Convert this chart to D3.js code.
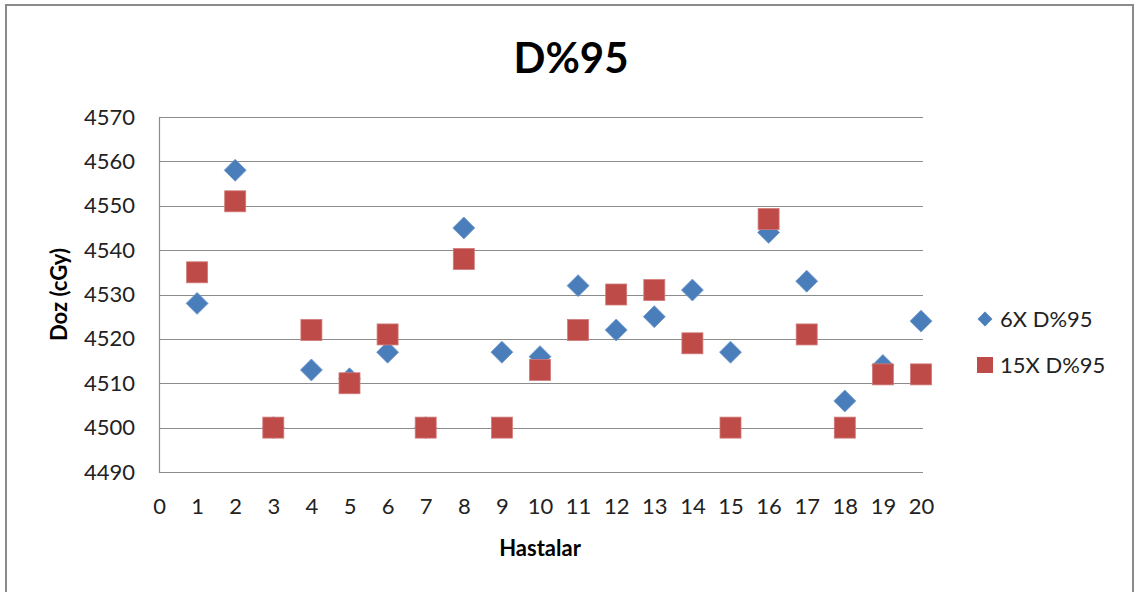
<!DOCTYPE html>
<html>
<head>
<meta charset="utf-8">
<script src="https://cdn.jsdelivr.net/npm/d3@7"></script>
<style>
  body { margin: 0; background: #fff; }
  svg { display: block; font-family: Lato, "Open Sans", sans-serif; }
</style>
</head>
<body>
<svg width="1136" height="592"></svg>
<script>
// Hasta numaraları ve doz değerleri (cGy)
const patients = d3.range(1, 21);
const dose6X  = [4528, 4558, 4500, 4513, 4511, 4517, 4500, 4545, 4517, 4516,
                 4532, 4522, 4525, 4531, 4517, 4544, 4533, 4506, 4514, 4524];
const dose15X = [4535, 4551, 4500, 4522, 4510, 4521, 4500, 4538, 4500, 4513,
                 4522, 4530, 4531, 4519, 4500, 4547, 4521, 4500, 4512, 4512];
const xTicks = d3.range(0, 21);
const yTicks = d3.range(4490, 4571, 10);
const seriesNames = ["6X D%95", "15X D%95"];

const blue = "#4a7ebb", red = "#be4b48";

const svg = d3.select("svg");

// Dış çerçeve
svg.append("rect")
    .attr("x", 6).attr("y", 5)
    .attr("width", 1127).attr("height", 600)
    .attr("fill", "#fff")
    .attr("stroke", "#8a8a8a")
    .attr("stroke-width", 2);

const plot = { left: 159, right: 921, top: 117, bottom: 472 };

const x = d3.scaleLinear().domain([0, 20]).range([plot.left, plot.right]);
const y = d3.scaleLinear().domain([4490, 4570]).range([plot.bottom, plot.top]);

// Yatay ızgara çizgileri
svg.append("g")
    .selectAll("line")
    .data(yTicks)
    .enter().append("line")
    .attr("x1", plot.left).attr("x2", plot.right + 2)
    .attr("y1", d => Math.round(y(d)) + 0.5)
    .attr("y2", d => Math.round(y(d)) + 0.5)
    .attr("stroke", "#8c8c8c")
    .attr("stroke-width", 1.2);

// Sol eksen çizgisi
svg.append("line")
    .attr("x1", plot.left + 0.5).attr("x2", plot.left + 0.5)
    .attr("y1", plot.top).attr("y2", plot.bottom + 1)
    .attr("stroke", "#8c8c8c")
    .attr("stroke-width", 1.2);

// Eksen etiketleri
const yAxis = d3.axisLeft(y).tickValues(yTicks).tickFormat(d3.format("d"))
    .tickSize(0).tickPadding(24);
svg.append("g")
    .attr("transform", "translate(" + plot.left + ",0)")
    .call(yAxis)
    .call(g => g.select(".domain").remove())
    .selectAll("text")
    .attr("font-family", "Lato, sans-serif")
    .attr("font-size", 22)
    .attr("fill", "#222");

const xAxis = d3.axisBottom(x).tickValues(xTicks).tickSize(0).tickPadding(26);
svg.append("g")
    .attr("transform", "translate(0," + plot.bottom + ")")
    .call(xAxis)
    .call(g => g.select(".domain").remove())
    .selectAll("text")
    .attr("font-family", "Lato, sans-serif")
    .attr("font-size", 22)
    .attr("fill", "#222");

// Başlık
svg.append("text")
    .attr("x", 571).attr("y", 73)
    .attr("text-anchor", "middle")
    .attr("font-size", 42)
    .attr("font-weight", "bold")
    .attr("fill", "#000")
    .text("D%95");

svg.append("text")
    .attr("x", 540).attr("y", 556)
    .attr("text-anchor", "middle")
    .attr("font-size", 22)
    .attr("font-weight", "bold")
    .attr("fill", "#000")
    .text("Hastalar");

svg.append("text")
    .attr("transform", "translate(67," + ((plot.top + plot.bottom) / 2) + ") rotate(-90)")
    .attr("text-anchor", "middle")
    .attr("font-size", 22)
    .attr("font-weight", "bold")
    .attr("fill", "#000")
    .text("Doz (cGy)");

// Noktalar
const diamond = d3.symbol().type(d3.symbolSquare).size(240);

svg.append("g")
    .selectAll("path")
    .data(patients.map((p, i) => ({ p, v: dose6X[i] })))
    .enter().append("path")
    .attr("d", diamond)
    .attr("transform", d => "translate(" + x(d.p) + "," + y(d.v) + ") rotate(45)")
    .attr("fill", blue)
    .attr("stroke", "#6f98cc")
    .attr("stroke-width", 0.8);

svg.append("g")
    .selectAll("rect")
    .data(patients.map((p, i) => ({ p, v: dose15X[i] })))
    .enter().append("rect")
    .attr("x", d => x(d.p) - 10.5)
    .attr("y", d => y(d.v) - 10.5)
    .attr("width", 21).attr("height", 21)
    .attr("fill", red)
    .attr("stroke", "#d27b79")
    .attr("stroke-width", 0.8);

// Lejant
const legend = svg.append("g").attr("transform", "translate(985,0)");

legend.append("path")
    .attr("d", d3.symbol().type(d3.symbolSquare).size(110))
    .attr("transform", "translate(0,319) rotate(45)")
    .attr("fill", blue);

legend.append("rect")
    .attr("x", -8).attr("y", 357)
    .attr("width", 16).attr("height", 16)
    .attr("fill", red);

legend.selectAll("text")
    .data(seriesNames)
    .enter().append("text")
    .attr("x", 15)
    .attr("y", (d, i) => 327 + i * 46)
    .attr("font-size", 22)
    .attr("fill", "#222")
    .text(d => d);
</script>
</body>
</html>
